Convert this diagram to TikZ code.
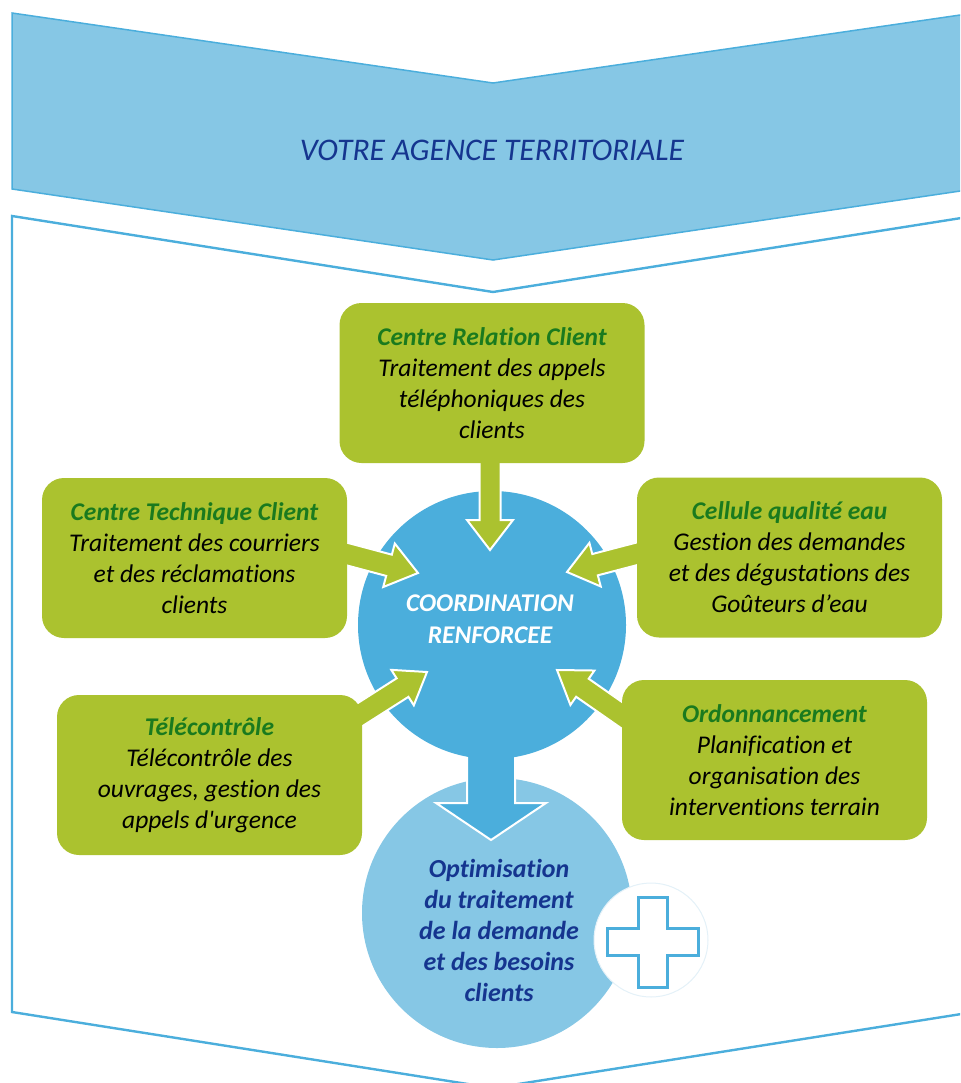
\documentclass[tikz,border=0pt]{standalone}
\usepackage{fontspec}
\setmainfont{Carlito}[Ligatures={TeX,NoCommon}]
\usetikzlibrary{calc}
\definecolor{lightblue}{HTML}{86C7E5}
\definecolor{midblue}{HTML}{4BAEDC}
\definecolor{leaf}{HTML}{ABC22F}
\definecolor{titlegreen}{HTML}{1A7A1E}
\definecolor{navy}{HTML}{15358F}
\definecolor{faint}{HTML}{E4F1F8}
\pgfdeclarelayer{back}
\pgfdeclarelayer{mid}
\pgfsetlayers{back,mid,main}
\newcommand{\ttl}[1]{{\bfseries\color{titlegreen}#1}}
% block arrow: #1 start, #2 tip, #3 half shaft, #4 half head, #5 head length, #6 style
\newcommand{\blockarrow}[6]{%
  \coordinate (ba-h) at ($(#2)!#5!(#1)$);
  \draw[#6] ($(#1)!#3!90:(#2)$) -- ($(ba-h)!#3!90:(#2)$) -- ($(ba-h)!#4!90:(#2)$)
    -- (#2) -- ($(ba-h)!#4!-90:(#2)$) -- ($(ba-h)!#3!-90:(#2)$) -- ($(#1)!#3!-90:(#2)$) -- cycle;}
\tikzset{
  gbox/.style={fill=leaf, rounded corners=22pt, minimum width=305pt, minimum height=160pt,
    align=center, inner sep=0pt, font=\itshape\fontsize{25.5}{31}\selectfont},
  garrow/.style={fill=leaf, draw=white, line width=2pt},
  barrow/.style={fill=midblue, draw=white, line width=2pt},
  frameline/.style={draw=midblue, line width=2.4pt},
}
\begin{document}
\begin{tikzpicture}[x=1pt,y=-1pt]
\useasboundingbox (0,0) rectangle (960,1083);
% boxes
\node[gbox] (b1) at (492,383) {\ttl{Centre Relation Client}\\Traitement des appels\\téléphoniques des\\clients};
\node[gbox] (b2) at (194.5,558) {\ttl{Centre Technique Client}\\Traitement des courriers\\et des réclamations\\clients};
\node[gbox] (b3) at (789.5,557.5) {\ttl{Cellule qualité eau}\\Gestion des demandes\\et des dégustations des\\Goûteurs d’eau};
\node[gbox] (b4) at (209.5,775) {\ttl{Télécontrôle}\\Télécontrôle des\\ouvrages, gestion des\\appels d\textquotesingle urgence};
\node[gbox] (b5) at (774.5,760) {\ttl{Ordonnancement}\\Planification et\\organisation des\\interventions terrain};
% background shapes
\begin{pgfonlayer}{back}
  \clip (0,0) rectangle (960,1083);
  \path[fill=lightblue, draw=midblue, line width=1.5pt]
    (12,13) -- (493,83) -- (974,13) -- (974,189) -- (493,260) -- (12,189) -- cycle;
  \path[frameline] (12,216) -- (493,292) -- (974,216) -- (974,1012) -- (493,1088) -- (12,1012) -- cycle;
  \node[circle, fill=lightblue, minimum size=270pt, inner sep=0pt] (opt) at (497,913) {};
  \node[circle, fill=white, draw=faint, line width=1pt, minimum size=114pt, inner sep=0pt] (pc) at (651,940) {};
  \draw[midblue, fill=white, line width=3pt]
    ($(pc)+(-13,-43)$) -- ($(pc)+(16,-43)$) -- ($(pc)+(16,-12)$) -- ($(pc)+(47,-12)$)
    -- ($(pc)+(47,15)$) -- ($(pc)+(16,15)$) -- ($(pc)+(16,47)$) -- ($(pc)+(-13,47)$)
    -- ($(pc)+(-13,15)$) -- ($(pc)+(-44,15)$) -- ($(pc)+(-44,-12)$) -- ($(pc)+(-13,-12)$) -- cycle;
  \coordinate (ds) at (491,700);
  \coordinate (dt) at (491,840);
  \blockarrow{ds}{dt}{24pt}{55pt}{37pt}{barrow}
  \node[circle, fill=midblue, minimum size=268pt, inner sep=0pt] (cc) at (492,625) {};
\end{pgfonlayer}
% title texts
\node[font=\itshape\fontsize{31.5}{36}\selectfont, text=navy] (title) at (492,150) {VOTRE AGENCE TERRITORIALE};
\node[font=\bfseries\itshape\fontsize{25.5}{32}\selectfont, text=white, align=center] (cctext) at (490,619) {COORDINATION\\RENFORCEE};
\node[font=\bfseries\itshape\fontsize{26}{31}\selectfont, text=navy, align=center] (opttext) at (499,930) {Optimisation\\du traitement\\de la demande\\et des besoins\\clients};
% green arrows
\coordinate (t1) at (490,550);
\coordinate (t2) at (418,573);
\coordinate (t3) at (567,572);
\coordinate (t4) at (427,672);
\coordinate (t5) at (557,670);
\begin{pgfonlayer}{mid}
  \coordinate (s1) at ($(b1.south)+(-2,-10)$);
  \coordinate (s2) at ($(b2.east)+(-8,-6)$);
  \coordinate (s3) at ($(b3.west)+(5,-5)$);
  \coordinate (s4) at ($(b4.north east)+(-15,28)$);
  \coordinate (s5) at ($(b5.north west)+(18,48)$);
  \blockarrow{s1}{t1}{10.5pt}{23pt}{30pt}{garrow}
  \blockarrow{s2}{t2}{11pt}{22.5pt}{30pt}{garrow}
  \blockarrow{s3}{t3}{11pt}{22.5pt}{29pt}{garrow}
  \blockarrow{s4}{t4}{11pt}{21pt}{29pt}{garrow}
  \blockarrow{s5}{t5}{11pt}{21pt}{31pt}{garrow}
\end{pgfonlayer}
\end{tikzpicture}
\end{document}
